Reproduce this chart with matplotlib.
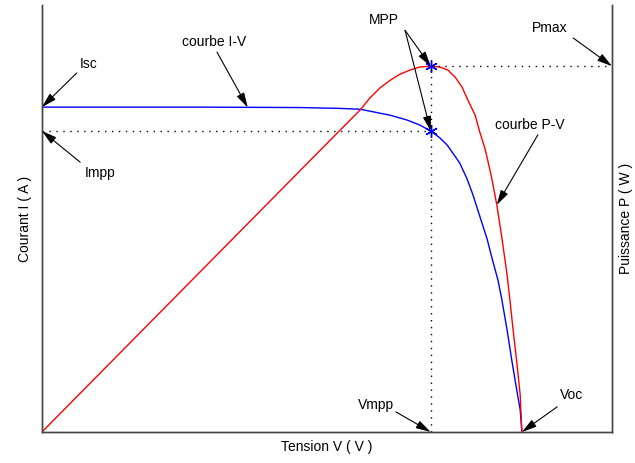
import matplotlib
matplotlib.use("Agg")
import matplotlib.pyplot as plt

plt.rcParams['font.family'] = ['Liberation Sans', 'DejaVu Sans']

# courbe I-V (normalised units)
v_iv = [0.000, 0.277, 0.453, 0.523, 0.558, 0.581, 0.611, 0.640, 0.663, 0.682,
        0.698, 0.711, 0.721, 0.733, 0.746, 0.756, 0.768, 0.781, 0.789, 0.800,
        0.807, 0.816, 0.825, 0.833, 0.839, 0.842]
i_iv = [0.761, 0.761, 0.760, 0.758, 0.756, 0.750, 0.742, 0.731, 0.719, 0.705,
        0.689, 0.672, 0.653, 0.630, 0.592, 0.556, 0.506, 0.452, 0.410, 0.356,
        0.309, 0.239, 0.162, 0.098, 0.052, 0.000]

# courbe P-V
v_pv = [0.000, 0.523, 0.558, 0.575, 0.593, 0.611, 0.628, 0.646, 0.663, 0.682,
        0.698, 0.712, 0.725, 0.737, 0.747, 0.760, 0.768, 0.777, 0.782, 0.789,
        0.798, 0.807, 0.816, 0.821, 0.826, 0.833, 0.839, 0.842]
p_pv = [0.000, 0.707, 0.754, 0.782, 0.806, 0.824, 0.838, 0.848, 0.855, 0.857,
        0.855, 0.848, 0.831, 0.808, 0.778, 0.742, 0.703, 0.665, 0.637, 0.595,
        0.532, 0.454, 0.368, 0.309, 0.246, 0.164, 0.087, 0.000]

isc = 0.761
impp = 0.705
vmpp = 0.682
voc = 0.842
pmax = 0.857

fig = plt.figure(figsize=(6.35, 4.63), dpi=100)
ax = fig.add_axes([0.0661, 0.067, 0.8976, 0.922])
ax2 = ax.twinx()

ax.plot(v_iv, i_iv, color='#0000ff', lw=1)
ax2.plot(v_pv, p_pv, color='#ff0000', lw=1)

star = (6, 2, 0)
ax.plot([vmpp], [impp], marker=star, color='#0000ff', ms=9, mew=1, ls='none')
ax2.plot([vmpp], [pmax], marker=star, color='#0000ff', ms=9, mew=1, ls='none')

dots = (0, (1, 4))
ax.plot([0, vmpp], [impp, impp], color='black', lw=1, ls=dots)
ax2.plot([vmpp, 1], [pmax, pmax], color='black', lw=1, ls=dots)
ax2.plot([vmpp, vmpp], [0, pmax], color='black', lw=1, ls=dots)

for a in (ax, ax2):
    a.set_xlim(0, 1)
    a.set_ylim(0, 1)
    a.set_xticks([])
    a.set_yticks([])
    a.spines['top'].set_visible(False)
    for s in ('left', 'right', 'bottom'):
        a.spines[s].set_color('#444444')
        a.spines[s].set_linewidth(1)

ax.set_xlabel('Tension V ( V )', fontsize=10, labelpad=6)
ax.set_ylabel('Courant I ( A )', fontsize=10, labelpad=7)
ax2.set_ylabel('Puissance P ( W )', fontsize=10, labelpad=5)

fs = 10
ax2.text(0.081, 0.862, 'Isc', fontsize=fs, ha='center', va='center')
ax2.text(0.102, 0.607, 'Impp', fontsize=fs, ha='center', va='center')
ax2.text(0.302, 0.913, 'courbe I-V', fontsize=fs, ha='center', va='center')
ax2.text(0.600, 0.965, 'MPP', fontsize=fs, ha='center', va='center')
ax2.text(0.891, 0.946, 'Pmax', fontsize=fs, ha='center', va='center')
ax2.text(0.856, 0.719, 'courbe P-V', fontsize=fs, ha='center', va='center')
ax2.text(0.586, 0.063, 'Vmpp', fontsize=fs, ha='center', va='center')
ax2.text(0.930, 0.087, 'Voc', fontsize=fs, ha='center', va='center')

arrow = dict(arrowstyle='-|>,head_length=0.9,head_width=0.25', color='black',
             lw=0.8, shrinkA=0, shrinkB=0)

def arr(head, tail):
    ax2.annotate('', xy=head, xytext=tail, arrowprops=arrow, annotation_clip=False)

arr((0.0, isc), (0.061, 0.841))
arr((0.0, impp), (0.067, 0.632))
arr((0.361, 0.760), (0.307, 0.890))
arr((vmpp, pmax), (0.637, 0.941))
arr((vmpp, impp), (0.637, 0.941))
arr((1.0, pmax), (0.932, 0.923))
arr((0.798, 0.532), (0.870, 0.696))
arr((vmpp, 0.0), (0.621, 0.047))
arr((voc, 0.0), (0.904, 0.059))

fig.savefig('out.png', dpi=100)
